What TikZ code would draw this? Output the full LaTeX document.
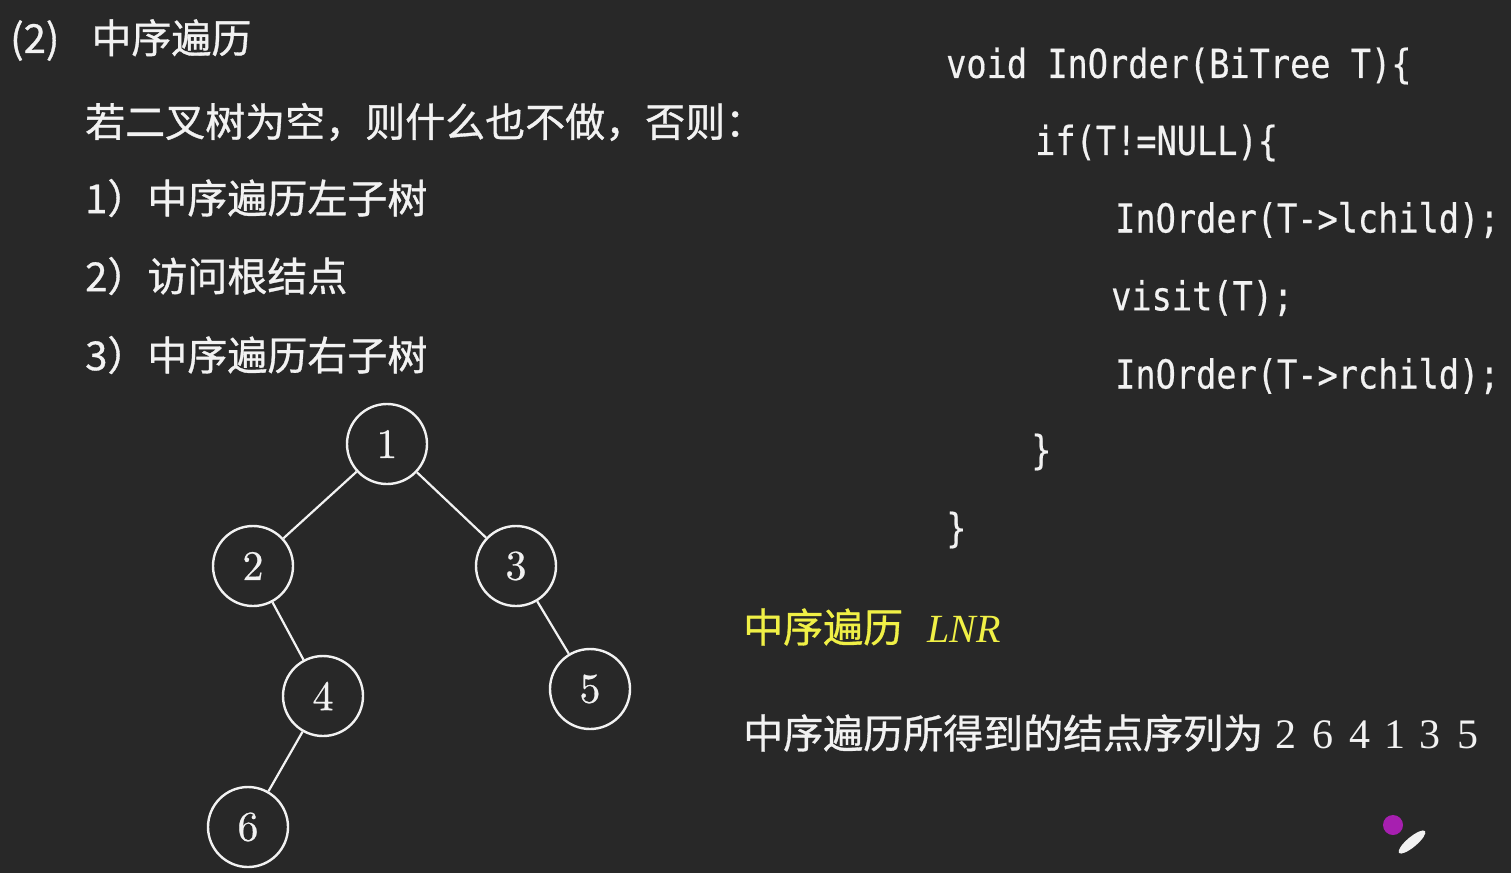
\documentclass[tikz,border=0pt]{standalone}
\usepackage{fontspec}
\newfontfamily\cjk[FakeBold=0.8]{Noto Sans CJK SC}
\newfontfamily\codefont[FakeStretch=0.84,FakeBold=0.4]{DejaVu Sans Mono}
\newfontfamily\serifnum{Liberation Serif}
\newfontfamily\treefont[FakeBold=0.6]{lmroman10-regular.otf}
\definecolor{board}{RGB}{40,40,40}
\definecolor{chalk}{RGB}{242,242,242}
\definecolor{chalkyellow}{RGB}{240,240,70}
\definecolor{cursorpink}{RGB}{190,30,200}
\tikzset{
  cn/.style={anchor=west, inner sep=0pt, text=chalk, font=\cjk\fontsize{40}{46}\selectfont},
  code/.style={anchor=west, inner sep=0pt, text=chalk, font=\codefont\fontsize{40}{46}\selectfont},
  tnode/.style={circle, draw=chalk, line width=2.4pt, minimum size=80pt, inner sep=0pt, text=chalk, font=\treefont\fontsize{42}{44}\selectfont},
  tedge/.style={draw=chalk, line width=2.2pt}
}
\begin{document}
\begin{tikzpicture}[x=1pt,y=-1pt]
\fill[board] (0,0) rectangle (1511,873);
\useasboundingbox (0,0) rectangle (1511,873);
% left text
\node[cn] (title) at (10,40) {(2)\hspace{32pt}中序遍历};
\node[cn] (cond) at (85,122) {若二叉树为空，则什么也不做，否则：};
\node[cn] (s1) at (85,198) {1）中序遍历左子树};
\node[cn] (s2) at (85,276) {2）访问根结点};
\node[cn] (s3) at (85,355) {3）中序遍历右子树};
% code
\node[code] (c1) at (946,66) {void InOrder(BiTree T)\{};
\node[code] (c2) at (1035,143) {if(T!=NULL)\{};
\node[code] (c3) at (1115,220) {InOrder(T->lchild);};
\node[code] (c4) at (1111,298) {visit(T);};
\node[code] (c5) at (1115,376) {InOrder(T->rchild);};
\node[code] (c6) at (1031,452) {\}};
\node[code] (c7) at (946,530) {\}};
% tree
\node[tnode] (n1) at (387,444) {1};
\node[tnode] (n2) at (253,566) {2};
\node[tnode] (n3) at (516,566) {3};
\node[tnode] (n4) at (323,696) {4};
\node[tnode] (n5) at (590,689) {5};
\node[tnode] (n6) at (248,827) {6};
\path[tedge] (n1) -- (n2);
\path[tedge] (n1) -- (n3);
\path[tedge] (n2) -- (n4);
\path[tedge] (n3) -- (n5);
\path[tedge] (n4) -- (n6);
% bottom right texts
\node[cn, text=chalkyellow] (lnr) at (743,627) {中序遍历\hspace{24pt}{\serifnum\itshape LNR}};
\node[cn] (res) at (743,733) {中序遍历所得到的结点序列为\hspace{12pt}{\serifnum\fontsize{42}{46}\selectfont 2\hspace{16pt}6\hspace{16pt}4\hspace{14pt}1\hspace{14pt}3\hspace{17pt}5}};
% cursor
\fill[cursorpink, opacity=0.85] (1393,825) circle (10);
\fill[chalk, rotate around={40:(1412,842)}] (1412,842) ellipse (17 and 5);
\end{tikzpicture}
\end{document}
